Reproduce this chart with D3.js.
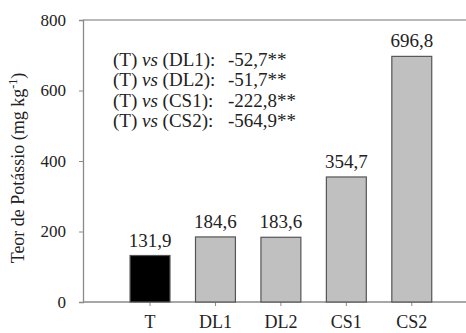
<!DOCTYPE html>
<html>
<head>
<meta charset="utf-8">
<script src="https://cdn.jsdelivr.net/npm/d3@7"></script>
<style>
  body { margin: 0; background: #fff; }
</style>
</head>
<body>
<svg id="chart" width="466" height="333"></svg>
<script>
// categories and values
const treatments = ["T", "DL1", "DL2", "CS1", "CS2"];
const potassium = [131.9, 184.6, 183.6, 354.7, 696.8];
const yTicks = [0, 200, 400, 600, 800];

// contrast labels (T vs ...)
const contrasts = ["(DL1)", "(DL2)", "(CS1)", "(CS2)"];
const contrastValues = ["-52,7**", "-51,7**", "-222,8**", "-564,9**"];

const serif = "'Liberation Serif', 'Times New Roman', Times, serif";

const svg = d3.select("#chart")
    .attr("font-family", serif);

const x = d3.scaleBand()
    .domain(treatments)
    .range([117.3, 444.5])
    .paddingInner(0.39)
    .paddingOuter(0.195);

const y = d3.scaleLinear().domain([0, 800]).range([302, 20]);

const axisColor = "#8a8a8a";

// top frame line
svg.append("line")
    .attr("x1", 83).attr("x2", 466)
    .attr("y1", y(800)).attr("y2", y(800))
    .attr("stroke", "#a0a0a0").attr("stroke-width", 1.5);

// y axis
const yAxis = svg.append("g")
    .attr("transform", "translate(83,0)")
    .call(d3.axisLeft(y).tickValues(yTicks).tickSize(4).tickPadding(13))
    .attr("font-family", serif);
yAxis.select(".domain").attr("stroke", axisColor).attr("stroke-width", 1.3);
yAxis.selectAll(".tick line").attr("stroke", axisColor);
yAxis.selectAll(".tick text").attr("font-size", 17).attr("fill", "#222");

// x axis
svg.append("line")
    .attr("x1", 83).attr("x2", 466)
    .attr("y1", y(0)).attr("y2", y(0))
    .attr("stroke", axisColor).attr("stroke-width", 1.3);

const xAxis = svg.append("g")
    .attr("transform", `translate(0,${y(0)})`)
    .call(d3.axisBottom(x).tickSize(4).tickPadding(9))
    .attr("font-family", serif);
xAxis.select(".domain").remove();
xAxis.selectAll(".tick line").attr("stroke", axisColor);
xAxis.selectAll(".tick text").attr("font-size", 18).attr("fill", "#222");

// bars
svg.selectAll("rect.bar")
    .data(potassium)
    .enter()
    .append("rect")
    .attr("class", "bar")
    .attr("x", (d, i) => x(treatments[i]))
    .attr("width", x.bandwidth())
    .attr("y", (d) => y(d))
    .attr("height", (d) => y(0) - y(d))
    .attr("fill", (d, i) => (i === 0 ? "#000" : "#c0c0c0"))
    .attr("stroke", "#555")
    .attr("stroke-width", 1.2);

// value labels
svg.selectAll("text.val")
    .data(potassium)
    .enter()
    .append("text")
    .attr("class", "val")
    .attr("x", (d, i) => x(treatments[i]) + x.bandwidth() / 2)
    .attr("y", (d) => y(d) - 9)
    .attr("text-anchor", "middle")
    .attr("font-size", 19)
    .attr("fill", "#222")
    .text((d) => d.toFixed(1).replace(".", ","));

// contrast annotation
const note = svg.append("g").attr("fill", "#222");
contrasts.forEach((c, i) => {
    const t = note.append("text")
        .attr("x", 113)
        .attr("y", 66 + i * 20.3)
        .attr("font-size", 19);
    t.append("tspan").text("(T) ");
    t.append("tspan").attr("font-style", "italic").text("vs");
    t.append("tspan").text(" " + c + ":");
    note.append("text")
        .attr("x", 228)
        .attr("y", 66 + i * 20.3)
        .attr("font-size", 19)
        .text(contrastValues[i]);
});

// y title
const title = svg.append("text")
    .attr("transform", "translate(24,168) rotate(-90)")
    .attr("text-anchor", "middle")
    .attr("font-size", 18)
    .attr("fill", "#222");
title.append("tspan").text("Teor de Potássio (mg kg");
title.append("tspan").attr("font-size", 12).attr("dy", -7).text("-1");
title.append("tspan").attr("dy", 7).text(")");
</script>
</body>
</html>
